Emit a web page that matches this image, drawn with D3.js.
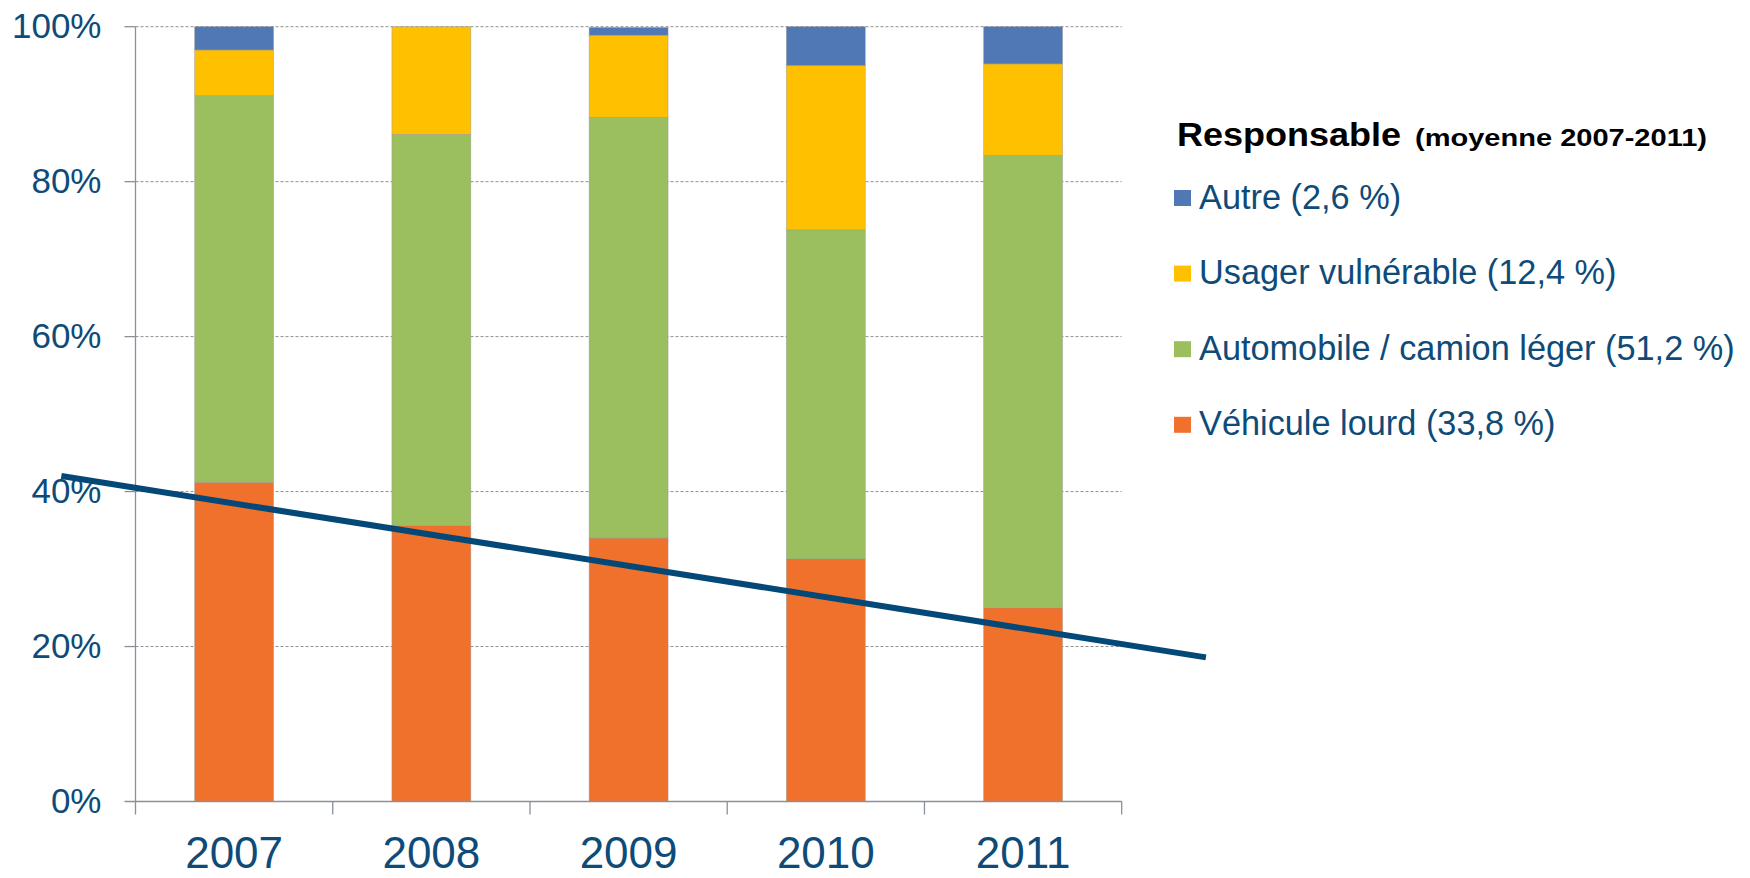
<!DOCTYPE html>
<html>
<head>
<meta charset="utf-8">
<script src="https://cdn.jsdelivr.net/npm/d3@7"></script>
<style>
  body { margin: 0; background: white; }
  text { font-family: "Liberation Sans", Arial, sans-serif; }
</style>
</head>
<body>
<div class="chart"></div>
<script>
var years = ['2007', '2008', '2009', '2010', '2011'];
var lourd = [41.2, 35.6, 34.0, 31.3, 25.0];
var auto = [49.9, 50.5, 54.3, 42.5, 58.4];
var vulnerable = [5.9, 13.9, 10.6, 21.2, 11.8];
var autre = [3.0, 0, 1.0, 5.0, 4.8];
var yTicks = [0, 20, 40, 60, 80, 100];
var legendLabels = ['Autre (2,6 %)', 'Usager vulnérable (12,4 %)', 'Automobile / camion léger (51,2 %)', 'Véhicule lourd (33,8 %)'];
// trend line: position in category index units, value in %
var trendPos = [-0.876, 4.927];
var trendVal = [42.0, 18.6];

var series = [
  { key: 'lourd', values: lourd, color: '#f0712b' },
  { key: 'auto', values: auto, color: '#9bbf5f' },
  { key: 'vulnerable', values: vulnerable, color: '#ffc000' },
  { key: 'autre', values: autre, color: '#4f78b5' }
];

var textColor = '#0e4b79';
var axisColor = '#8a9099';

var svg = d3.select('.chart')
  .append('svg')
    .attr('width', 1750)
    .attr('height', 878);

var x = d3.scaleBand()
  .domain(years)
  .range([135.5, 1121.7])
  .paddingInner(0.6)
  .paddingOuter(0.3);

var y = d3.scaleLinear()
  .domain([0, 100])
  .range([801.5, 26.7]);

var step = x.step();
var left = x.range()[0], right = x.range()[1];

// gridlines
svg.append('g')
  .selectAll('line')
  .data(yTicks.filter(d => d > 0))
  .enter().append('line')
    .attr('x1', left)
    .attr('x2', right)
    .attr('y1', d => y(d))
    .attr('y2', d => y(d))
    .attr('stroke', '#8f8f8f')
    .attr('stroke-width', 1)
    .attr('stroke-dasharray', '3,2');

// stacked bars
var rows = years.map((yr, i) => {
  var r = { year: yr };
  series.forEach(s => r[s.key] = s.values[i]);
  return r;
});
var stacked = d3.stack().keys(series.map(s => s.key))(rows);

svg.append('g')
  .selectAll('g')
  .data(stacked)
  .enter().append('g')
    .attr('fill', (d, i) => series[i].color)
  .selectAll('rect')
  .data(d => d.filter(p => p[1] - p[0] > 0))
  .enter().append('rect')
    .attr('x', d => x(d.data.year))
    .attr('width', x.bandwidth())
    .attr('y', d => y(d[1]))
    .attr('height', d => y(d[0]) - y(d[1]))
    .attr('stroke', 'rgba(150,150,150,0.6)')
    .attr('stroke-width', 0.75);

// axes
var axes = svg.append('g').attr('stroke', axisColor).attr('stroke-width', 1.3);
axes.append('line')
  .attr('x1', left).attr('x2', left)
  .attr('y1', y(100)).attr('y2', y(0) + 13);
axes.append('line')
  .attr('x1', left - 11).attr('x2', right)
  .attr('y1', y(0)).attr('y2', y(0));
axes.selectAll('.yt')
  .data(yTicks.filter(d => d > 0))
  .enter().append('line')
    .attr('x1', left - 11).attr('x2', left)
    .attr('y1', d => y(d)).attr('y2', d => y(d));
axes.selectAll('.xt')
  .data(d3.range(1, years.length + 1))
  .enter().append('line')
    .attr('x1', i => left + i * step).attr('x2', i => left + i * step)
    .attr('y1', y(0)).attr('y2', y(0) + 13);

// tick labels
svg.append('g')
  .selectAll('text')
  .data(yTicks)
  .enter().append('text')
    .attr('x', 101.5)
    .attr('y', d => y(d) + 11.5)
    .attr('text-anchor', 'end')
    .attr('font-size', 35)
    .attr('fill', textColor)
    .text(d => d + '%');

svg.append('g')
  .selectAll('text')
  .data(years)
  .enter().append('text')
    .attr('x', d => x(d) + x.bandwidth() / 2)
    .attr('y', 868)
    .attr('text-anchor', 'middle')
    .attr('font-size', 44)
    .attr('fill', textColor)
    .text(d => d);

// trend line
var xIdx = d3.scaleLinear()
  .domain([0, years.length - 1])
  .range([x(years[0]) + x.bandwidth() / 2, x(years[years.length - 1]) + x.bandwidth() / 2]);

svg.append('path')
  .datum(trendPos.map((p, i) => [p, trendVal[i]]))
  .attr('d', d3.line().x(d => xIdx(d[0])).y(d => y(d[1])))
  .attr('fill', 'none')
  .attr('stroke', '#044877')
  .attr('stroke-width', 6);

// legend
var legend = svg.append('g');
legend.append('text')
  .attr('x', 1177)
  .attr('y', 146)
  .attr('font-size', 33)
  .attr('font-weight', 'bold')
  .attr('fill', '#000')
  .attr('textLength', 224)
  .attr('lengthAdjust', 'spacingAndGlyphs')
  .text('Responsable');
legend.append('text')
  .attr('x', 1415)
  .attr('y', 146)
  .attr('font-size', 23.5)
  .attr('font-weight', 'bold')
  .attr('fill', '#000')
  .attr('textLength', 292)
  .attr('lengthAdjust', 'spacingAndGlyphs')
  .text('(moyenne 2007-2011)');

var legendColors = series.map(s => s.color).reverse();
var items = legend.selectAll('.item')
  .data(legendLabels)
  .enter().append('g')
    .attr('transform', (d, i) => 'translate(0,' + (208.5 + i * 75.6) + ')');
items.append('rect')
  .attr('x', 1174)
  .attr('y', -18.5)
  .attr('width', 17)
  .attr('height', 16)
  .attr('fill', (d, i) => legendColors[i]);
items.append('text')
  .attr('x', 1199)
  .attr('y', 0)
  .attr('font-size', 34.3)
  .attr('fill', textColor)
  .text(d => d);
</script>
</body>
</html>
